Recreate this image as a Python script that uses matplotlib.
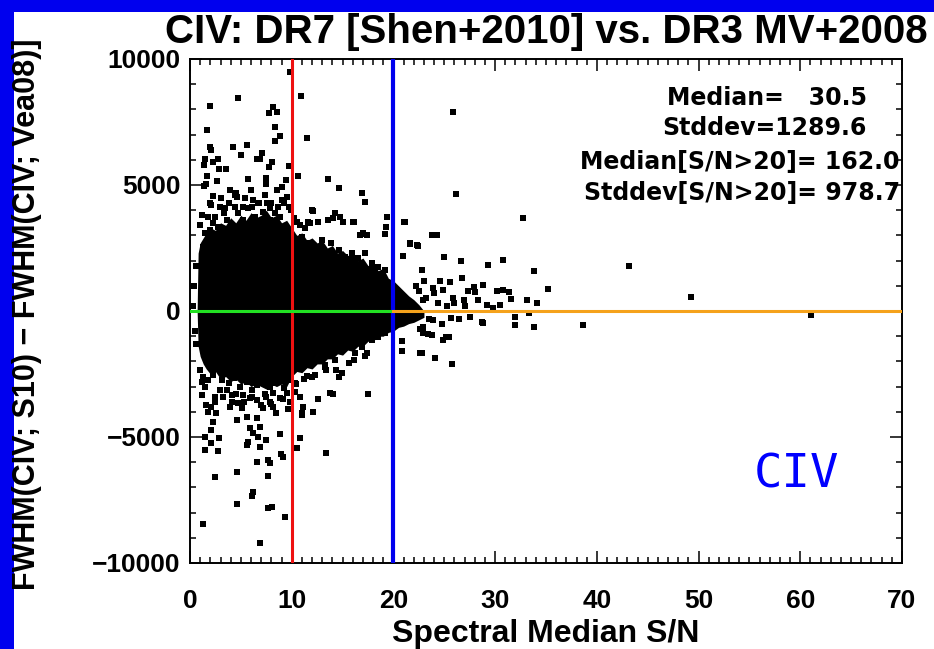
import matplotlib.pyplot as plt
from matplotlib.patches import Rectangle
from matplotlib.ticker import MultipleLocator

# dense part of the cloud: lower/upper edge of the solid region vs S/N
core_sn = [0.7, 0.8, 1.0, 1.3, 1.6, 2.0, 2.5, 3.0, 3.5, 4.0, 4.5, 5.0, 5.5, 6.0, 6.5, 7.0,
           7.5, 8.0, 8.5, 9.0, 9.5, 10.0, 10.5, 11.0, 11.5, 12.0, 12.5, 13.0, 13.5, 14.0,
           14.5, 15.0, 15.5, 16.0, 16.5, 17.0, 17.5, 18.0, 18.5, 19.0, 19.5, 20.0, 20.5,
           21.0, 21.5, 22.0, 22.5, 23.0]
core_hi = [0, 2300, 2700, 2900, 3100, 3300, 3200, 3500, 3400, 3700, 3500, 3800, 3600, 3900,
           3700, 3800, 4000, 3700, 3800, 3500, 3600, 3300, 3000, 3100, 2800, 2900, 2700, 2800,
           2500, 2600, 2300, 2400, 2200, 2300, 2000, 2100, 1800, 1900, 1600, 1700, 1300, 1200,
           1000, 800, 600, 450, 250, 0]
core_lo = [0, -1400, -1800, -2100, -2300, -2500, -2400, -2700, -2600, -2800, -2700, -2900,
           -2800, -3000, -2900, -3000, -3100, -2900, -3000, -2900, -3000, -2600, -2400, -2450,
           -2250, -2300, -2100, -2100, -1900, -1900, -1700, -1750, -1550, -1600, -1400, -1400,
           -1200, -1200, -1000, -1000, -850, -800, -650, -600, -500, -450, -350, -250]

# individual objects outside the dense part
sn = [9.8, 10.9, 4.7, 2.0, 8.2, 7.8, 8.6, 1.7, 8.4, 11.5, 8.8, 8.4, 2.0, 2.1, 4.2, 5.6, 5.0,
      7.1, 6.9, 6.6, 1.5, 1.4, 2.3, 2.8, 8.1, 7.8, 2.85, 3.5, 9.7, 1.7, 5.7, 7.5, 7.5, 10.6,
      9.4, 9.0, 1.4, 1.6, 2.7, 13.6, 14.6, 16.9, 17.2, 3.9, 4.4, 4.6, 2.3, 2.1, 6.8, 5.2, 6.1,
      9.5, 9.7, 7.6, 7.9, 12.1, 14.3, 14.7, 14.1, 15.0, 16.0, 19.4, 19.3, 19.2, 21.1, 11.6,
      12.6, 10.5, 17.0, 16.7, 24.3, 21.6, 22.4, 22.8, 20.9,
      1.15, 1.6, 2.1, 1.8, 2.6, 2.3, 2.1, 3.6, 4.1, 4.75, 5.1, 4.6, 5.6, 6.6, 6.9, 5.9, 6.2,
      6.7, 5.7, 5.6, 6.9, 7.5, 7.2, 8.2, 8.5, 1.5, 2.1, 2.9, 1.5, 2.8, 6.6, 7.7, 7.9, 8.85,
      8.9, 9.1, 10.8, 10.55, 13.4, 12.6, 12.1, 11.1, 11.0, 13.8, 14.1, 17.5, 10.3, 10.3, 2.5,
      4.65, 7.7, 6.2, 6.05, 4.6, 7.7, 8.1, 9.3, 1.3, 6.9, 22.8, 24.1, 20.8, 20.8, 17.2, 16.1,
      14.6, 13.4, 13.3, 14.4, 11.5, 12.3,
      25.9, 26.2, 32.7, 43.2, 25.0, 26.6, 29.3, 30.8, 33.8, 26.7, 35.2, 27.9, 28.0, 28.8,
      25.6, 24.9, 23.9, 22.9, 30.8, 31.4, 30.5, 31.6, 33.1, 34.1, 28.3, 29.2, 26.9, 25.9,
      25.7, 27.5, 28.7, 32.0, 33.3, 32.0, 33.8, 38.6, 23.9, 22.9, 25.2, 49.3, 61.1, 28.8,
      22.9, 23.8, 24.9, 25.5, 25.8,
      12.0, 12.6, 11.8, 13.6, 16.1, 17.0, 17.4, 21.0, 21.6, 22.3, 23.8, 11.0, 11.6, 12.3,
      12.95, 13.9, 14.6, 15.2, 15.9, 16.5, 17.2, 17.9, 18.5, 19.2, 18.8,
      12.6, 13.3, 14.3, 14.9, 15.6, 16.2, 16.9, 17.4, 17.9, 18.5, 19.2, 11.0, 10.8, 22.6,
      1.8, 2.3, 2.95, 3.3, 2.8, 3.6, 4.3, 4.75, 5.2, 5.9, 6.4, 6.7, 7.2, 7.9, 8.2, 8.85, 9.2,
      9.3, 8.7, 1.5, 2.0, 3.9, 5.6, 7.5, 9.5, 2.5, 4.4, 5.7, 8.4, 7.05, 3.3, 1.3, 1.3,
      1.3, 1.8, 2.3, 3.1, 3.8, 4.3, 4.9, 5.6, 6.05, 6.55, 7.2, 7.9, 8.5, 9.2, 9.7, 2.95, 5.2,
      5.9, 7.5, 8.2, 6.55, 7.0, 8.85, 9.5, 9.8, 1.0, 2.45, 4.1, 7.9,
      22.5, 23.2, 23.5, 24.0, 24.4, 24.8, 25.3, 23.0, 22.2, 24.6, 26.0, 26.4, 27.0, 27.3,
      22.6, 23.4, 29.8, 30.2, 0.4, 0.5, 0.3, 0.6, 0.6,
      2.0, 3.0, 3.8, 4.5, 5.4, 6.2, 7.4, 8.0, 9.0, 1.2, 1.0, 3.4, 6.0, 8.6, 9.9, 10.2, 10.8,
      11.3, 1.5, 2.5, 3.2, 3.9, 4.5, 5.3, 6.1, 7.4, 8.0, 9.1, 9.6, 1.2, 10.4, 11.2, 12.0]
dfwhm = [9470, 8530, 8440, 8140, 8100, 7870, 7900, 7180, 7310, 6880, 6940, 6740, 6500, 6390,
         6500, 6580, 6190, 6260, 6020, 6020, 6020, 5800, 5920, 6020, 5900, 5700, 5620, 5620,
         5750, 5370, 5230, 5260, 5040, 5370, 5200, 4930, 4970, 5040, 5160, 5230, 4870, 4690,
         4340, 4800, 4600, 4510, 4560, 4210, 4270, 4140, 4140, 4530, 4140, 4270, 4080, 3980,
         3870, 3740, 3680, 3520, 3520, 3740, 3340, 3050, 3520, 3520, 3520, 3540, 3050, 3020,
         3020, 2650, 2580, 1630, 2200,
         -3330, -3730, -3800, -4000, -4060, -4390, -4720, -3140, -3600, -3660, -3860, -4320,
         -4190, -4260, -4590, -4650, -4850, -4990, -5190, -5320, -5380, -5120, -3860, -3800,
         -4060, -4990, -5250, -5050, -5510, -5540, -5980, -5910, -6020, -4880, -5670, -5780,
         -5050, -5440, -5620, -3500, -3990, -3800, -4120, -3260, -3300, -3300, -3200, -2870,
         -6580, -6380, -6550, -7170, -7340, -7660, -7830, -7790, -8180, -8450, -9190, -1680,
         -1860, -1210, -1590, -1790, -1940, -2630, -2340, -2140, -2340, -2570, -2540,
         7910, 4640, 3680, 1780, 2130, 1970, 1820, 2020, 1600, 1300, 860, 970, 770, 1030, 1160,
         840, 900, 430, 840, 770, 230, 460, 430, 300, 430, 230, 430, 500, -290, -230, -425,
         -230, -90, -550, -620, -550, -360, -620, -1020, 540, -160, -460, -890, -950, -1150,
         -1020, -2110,
         4010, 3540, 3480, 3610, 3540, 3090, 3020, 3540, 2690, 2620, 3020, 2950, 2690, 2420,
         2820, 2690, 2420, 2160, 2290, 2090, 2290, 1890, 1750, 1630, 1360,
         -1815, -2210, -1945, -2475, -2070, -1680, -1420, -1680, -1155, -1015, -890, -4060,
         -3400, -1680,
         3750, 3480, 4140, 3870, 3340, 3610, 3340, 3870, 3610, 3340, 3750, 4270, 3940, 3610,
         3340, 3750, 4270, 3340, 4140, 3080, 3210, 3080, 3080, 3080, 3080, 3750, 4140, 4080,
         3870, 3340, 3210, 2550, 2020,
         -2600, -2740, -2540, -2740, -2870, -2670, -3000, -2810, -3140, -2930, -2740, -3000,
         -2870, -3070, -2740, -3140, -3330, -3460, -3400, -3260, -3530, -3730, -3460, -3260,
         -3600, -2340, -3400, -3330, -3600,
         800, 500, -300, 700, 300, -500, 200, 1200, 1000, 1200, 300, -300, 200, 800, -700,
         -900, 100, 800, 1000, -800, 200, 1800, -1300,
         4300, 4500, 4300, 4700, 4500, 4400, 4600, 4300, 4400, 3800, 3400, 4100, 4800, 4800,
         4000, 3700, 3400, 3300, -3000, -3600, -3400, -3800, -3300, -3600, -3400, -3300, -3700,
         -3500, -3900, -2800, -2900, -2700, -2600]

stats_lines = ["Median=   30.5", "Stddev=1289.6", "Median[S/N>20]= 162.0", "Stddev[S/N>20]= 978.7"]

plt.rcParams['font.family'] = ['Liberation Sans', 'DejaVu Sans']
plt.rcParams['font.weight'] = 'bold'

W, H = 934, 649
fig = plt.figure(figsize=(W / 100, H / 100), dpi=100)
fig.patch.set_facecolor('#0000ee')
fig.add_artist(Rectangle((14 / W, 0), 1, 1 - 12 / H, transform=fig.transFigure,
                         facecolor='white', edgecolor='none', zorder=-1))

ax = fig.add_axes([190 / W, 1 - 563 / H, 712 / W, 504 / H])

# scatter cloud
ax.fill_between(core_sn, core_lo, core_hi, color='black', lw=0, zorder=2)
ax.scatter(sn, dfwhm, marker='s', s=18, c='black', linewidths=0, zorder=3)

# reference lines
ax.axvline(10, color='#ee1111', lw=2.2, zorder=4)
ax.axvline(20, color='#0000ee', lw=3.0, zorder=4)
ax.plot([0, 20], [0, 0], color='#22e022', lw=2.2, zorder=4)
ax.plot([20, 70], [0, 0], color='#f5a21c', lw=2.2, zorder=4)

ax.set_xlim(0, 70)
ax.set_ylim(-10000, 10000)
ax.set_xticks(range(0, 71, 10))
ax.set_yticks([-10000, -5000, 0, 5000, 10000])
ax.xaxis.set_minor_locator(MultipleLocator(1))
ax.yaxis.set_minor_locator(MultipleLocator(1000))
ax.tick_params(which='both', direction='in', top=True, right=True, width=1.1, color='black')
ax.tick_params(which='major', length=8.5)
ax.tick_params(which='minor', length=4.3)
ax.tick_params(axis='x', labelsize=19, pad=19)
ax.tick_params(axis='y', labelsize=19, pad=7)
for sp in ax.spines.values():
    sp.set_linewidth(1.4)

ys = [0.923, 0.863, 0.796, 0.734]
xs = [0.951, 0.951, 0.997, 0.997]
for t, x, y in zip(stats_lines, xs, ys):
    ax.text(x, y, t, transform=ax.transAxes, ha='right', va='center', fontsize=17,
            family='DejaVu Sans', fontweight='bold', zorder=5)

ax.text(0.852, 0.175, "CIV", transform=ax.transAxes, ha='center', va='center',
        fontsize=34, color='#0000ff', family='DejaVu Sans Mono', fontweight='normal')

fig.text(546 / W, 1 - 32 / H, "CIV: DR7 [Shen+2010] vs. DR3 MV+2008", ha='center',
         va='center', fontsize=29, fontweight='bold')
fig.text(546 / W, 1 - 634 / H, "Spectral Median S/N", ha='center', va='center',
         fontsize=23, fontweight='bold')
fig.text(27 / W, 1 - 314 / H, "FWHM(CIV; S10) \u2212 FWHM(CIV; Vea08)]", ha='center',
         va='center', rotation=90, fontsize=22, fontweight='bold')

fig.savefig('out.png', dpi=100, facecolor=fig.get_facecolor())
